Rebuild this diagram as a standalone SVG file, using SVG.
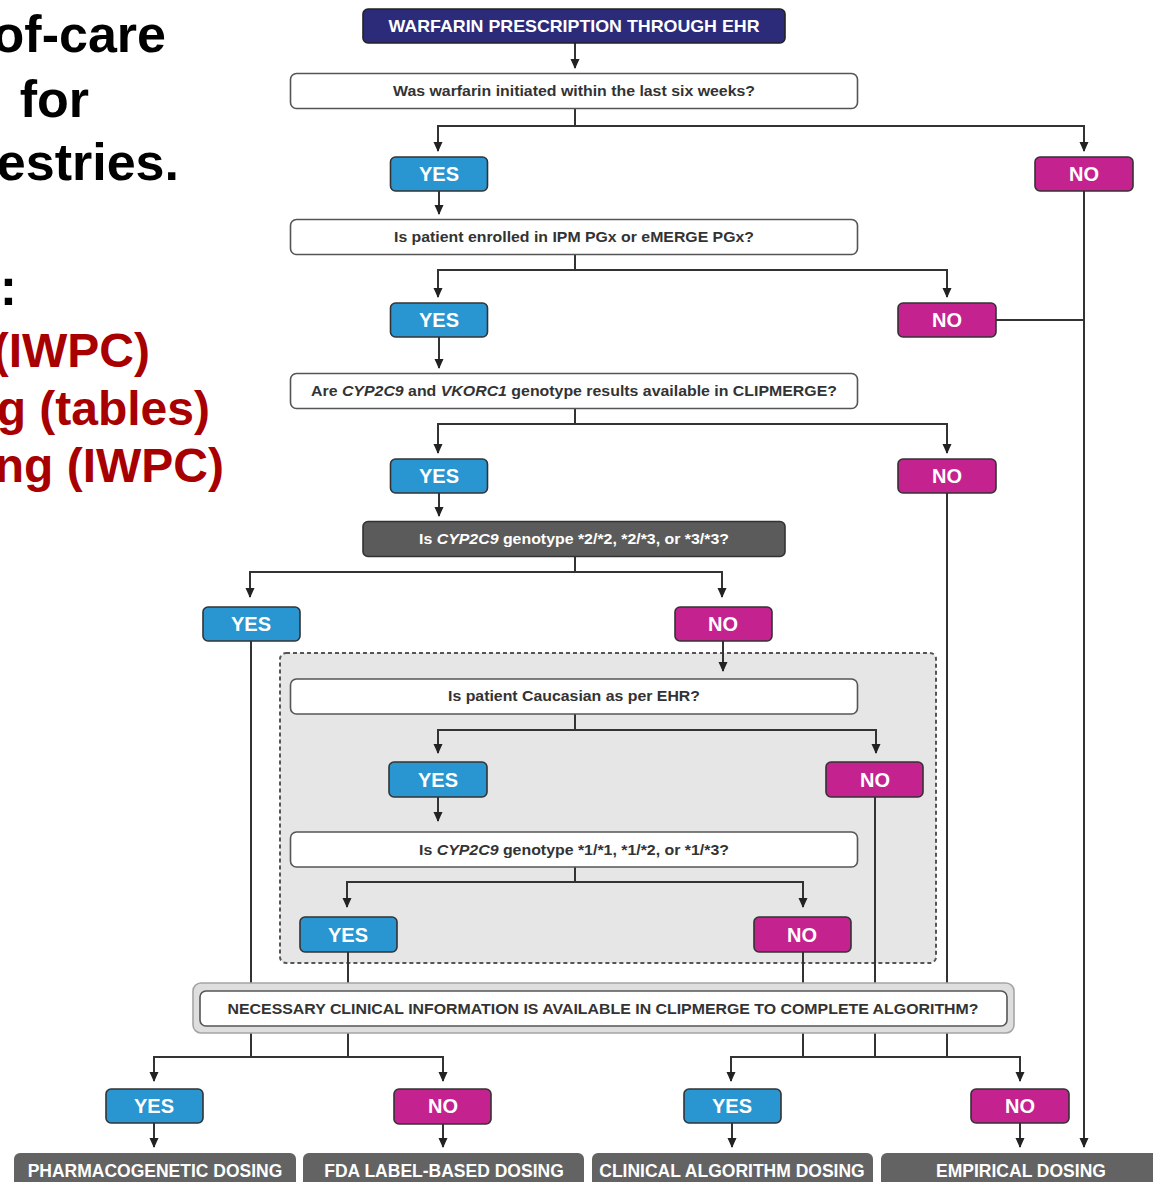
<svg xmlns="http://www.w3.org/2000/svg" width="1153" height="1182" viewBox="0 0 1153 1182">
  <style>
    text { font-family: "Liberation Sans", Arial, sans-serif; font-weight: bold; }
    .side { font-size: 52px; fill: #000; text-anchor: end; }
    .side-red { font-size: 48px; fill: #a80000; text-anchor: end; }
    .q { fill: #fff; stroke: #555; stroke-width: 1.6; }
    .qt { font-size: 15px; fill: #333; text-anchor: middle; }
    .yes { fill: #2996d1; stroke: #333; stroke-width: 1.6; }
    .no { fill: #c4228e; stroke: #333; stroke-width: 1.6; }
    .ynt { font-size: 20px; fill: #fff; text-anchor: middle; }
    .dark { fill: #5b5b5b; stroke: #333; stroke-width: 1.6; }
    .wt { fill: #fff; text-anchor: middle; }
    .out { fill: #636363; }
    .ot { font-size: 17.5px; fill: #fff; text-anchor: middle; }
    .conn { fill: none; stroke: #333; stroke-width: 2; }
    .arr { marker-end: url(#ah); }
  </style>
  <defs>
    <marker id="ah" viewBox="0 0 10 10" refX="9" refY="5" markerWidth="10" markerHeight="11" markerUnits="userSpaceOnUse" orient="auto">
      <path d="M0,0.5 L10,5 L0,9.5 z" fill="#222"/>
    </marker>
  </defs>
  <rect width="1153" height="1182" fill="#fff"/>

  <!-- title text running off the left edge -->
  <g id="side-text">
    <text class="side" x="166" y="52">of-care</text>
    <text class="side" x="89" y="117">for</text>
    <text class="side" x="179" y="180">estries.</text>
    <text class="side" x="17" y="305">:</text>
    <text class="side-red" x="150" y="367">(IWPC)</text>
    <text class="side-red" x="210" y="425">g (tables)</text>
    <text class="side-red" x="224" y="482">ng (IWPC)</text>
  </g>

  <!-- shaded region for the ancestry sub-flow -->
  <g id="ancestry-region">
    <rect x="280" y="653" width="656" height="310" rx="6" fill="#e6e6e6" stroke="#555" stroke-width="2" stroke-dasharray="4 3"/>
  </g>

  <g id="connectors">
    <path class="conn arr" d="M575,43 V68"/>
    <path class="conn arr" d="M575,108 V126 H438 V151"/>
    <path class="conn arr" d="M575,126 H1084 V151"/>
    <path class="conn arr" d="M1084,191 V1147"/>
    <path class="conn arr" d="M439,191 V214"/>
    <path class="conn arr" d="M575,254 V270 H438 V297"/>
    <path class="conn arr" d="M575,270 H947 V297"/>
    <path class="conn" d="M996,320 H1084"/>
    <path class="conn arr" d="M439,337 V368"/>
    <path class="conn arr" d="M575,409 V424 H438 V453"/>
    <path class="conn arr" d="M575,424 H947 V453"/>
    <path class="conn" d="M947,493 V1057"/>
    <path class="conn arr" d="M439,493 V516"/>
    <path class="conn arr" d="M575,556 V572 H250 V597"/>
    <path class="conn arr" d="M575,572 H722 V597"/>
    <path class="conn" d="M251,641 V1057"/>
    <path class="conn arr" d="M723,641 V671"/>
    <path class="conn arr" d="M575,714 V730 H438 V753"/>
    <path class="conn arr" d="M575,730 H876 V753"/>
    <path class="conn" d="M875,797 V1057"/>
    <path class="conn arr" d="M438,797 V821"/>
    <path class="conn arr" d="M575,867 V882 H347 V907"/>
    <path class="conn arr" d="M575,882 H803 V907"/>
    <path class="conn" d="M348,952 V1057"/>
    <path class="conn" d="M803,952 V1057"/>
    <path class="conn arr" d="M251,1057 H154 V1081"/>
    <path class="conn arr" d="M251,1057 H443 V1081"/>
    <path class="conn arr" d="M803,1057 H731 V1081"/>
    <path class="conn arr" d="M803,1057 H1020 V1081"/>
    <path class="conn arr" d="M154,1123 V1147"/>
    <path class="conn arr" d="M443,1124 V1147"/>
    <path class="conn arr" d="M732,1123 V1147"/>
    <path class="conn arr" d="M1020,1123 V1147"/>
  </g>

  <g id="start">
    <rect x="363" y="9" width="422" height="34" rx="5" fill="#2c2b7a" stroke="#222" stroke-width="1.6"/>
    <text class="wt" x="574" y="32" font-size="17" textLength="371" lengthAdjust="spacingAndGlyphs">WARFARIN PRESCRIPTION THROUGH EHR</text>
  </g>

  <g id="q-initiated">
    <rect class="q" x="290.5" y="73.5" width="567" height="35" rx="6"/>
    <text class="qt" x="574" y="96" textLength="362" lengthAdjust="spacingAndGlyphs">Was warfarin initiated within the last six weeks?</text>
  </g>
  <g id="yes-1"><rect class="yes" x="390.5" y="157" width="97" height="34" rx="5"/><text class="ynt" x="439" y="181">YES</text></g>
  <g id="no-1"><rect class="no" x="1035" y="157" width="98" height="34" rx="5"/><text class="ynt" x="1084" y="181">NO</text></g>

  <g id="q-enrolled">
    <rect class="q" x="290.5" y="219.5" width="567" height="35" rx="6"/>
    <text class="qt" x="574" y="242" textLength="360" lengthAdjust="spacingAndGlyphs">Is patient enrolled in IPM PGx or eMERGE PGx?</text>
  </g>
  <g id="yes-2"><rect class="yes" x="390.5" y="303" width="97" height="34" rx="5"/><text class="ynt" x="439" y="327">YES</text></g>
  <g id="no-2"><rect class="no" x="898" y="303" width="98" height="34" rx="5"/><text class="ynt" x="947" y="327">NO</text></g>

  <g id="q-results">
    <rect class="q" x="290.5" y="373.5" width="567" height="35" rx="6"/>
    <text class="qt" x="574" y="396" textLength="526" lengthAdjust="spacingAndGlyphs">Are <tspan font-style="italic">CYP2C9</tspan> and <tspan font-style="italic">VKORC1</tspan> genotype results available in CLIPMERGE?</text>
  </g>
  <g id="yes-3"><rect class="yes" x="390.5" y="459" width="97" height="34" rx="5"/><text class="ynt" x="439" y="483">YES</text></g>
  <g id="no-3"><rect class="no" x="898" y="459" width="98" height="34" rx="5"/><text class="ynt" x="947" y="483">NO</text></g>

  <g id="q-poor-metabolizer">
    <rect class="dark" x="363" y="521.5" width="422" height="35" rx="5"/>
    <text class="wt" x="574" y="544" font-size="15" textLength="310" lengthAdjust="spacingAndGlyphs">Is <tspan font-style="italic">CYP2C9</tspan> genotype *2/*2, *2/*3, or *3/*3?</text>
  </g>
  <g id="yes-4"><rect class="yes" x="203" y="607" width="97" height="34" rx="5"/><text class="ynt" x="251" y="631">YES</text></g>
  <g id="no-4"><rect class="no" x="675" y="607" width="97" height="34" rx="5"/><text class="ynt" x="723" y="631">NO</text></g>

  <g id="q-caucasian">
    <rect class="q" x="290.5" y="679" width="567" height="35" rx="6"/>
    <text class="qt" x="574" y="701" textLength="252" lengthAdjust="spacingAndGlyphs">Is patient Caucasian as per EHR?</text>
  </g>
  <g id="yes-5"><rect class="yes" x="389" y="762" width="98" height="35" rx="5"/><text class="ynt" x="438" y="787">YES</text></g>
  <g id="no-5"><rect class="no" x="826" y="762" width="97" height="35" rx="5"/><text class="ynt" x="875" y="787">NO</text></g>

  <g id="q-star1">
    <rect class="q" x="290.5" y="832" width="567" height="35" rx="6"/>
    <text class="qt" x="574" y="855" textLength="310" lengthAdjust="spacingAndGlyphs">Is <tspan font-style="italic">CYP2C9</tspan> genotype *1/*1, *1/*2, or *1/*3?</text>
  </g>
  <g id="yes-6"><rect class="yes" x="300" y="917" width="97" height="35" rx="5"/><text class="ynt" x="348" y="942">YES</text></g>
  <g id="no-6"><rect class="no" x="754" y="917" width="97" height="35" rx="5"/><text class="ynt" x="802" y="942">NO</text></g>

  <g id="q-clinical-info">
    <rect x="193" y="983" width="821" height="50" rx="8" fill="#dedede" stroke="#a5a5a5" stroke-width="1.6"/>
    <rect x="200" y="991" width="807" height="35" rx="6" fill="#fff" stroke="#555" stroke-width="1.6"/>
    <text class="qt" x="603" y="1014" font-size="16" textLength="751" lengthAdjust="spacingAndGlyphs">NECESSARY CLINICAL INFORMATION IS AVAILABLE IN CLIPMERGE TO COMPLETE ALGORITHM?</text>
  </g>
  <g id="yes-7"><rect class="yes" x="106" y="1089" width="97" height="34" rx="5"/><text class="ynt" x="154" y="1113">YES</text></g>
  <g id="no-7"><rect class="no" x="394" y="1089" width="97" height="35" rx="5"/><text class="ynt" x="443" y="1113">NO</text></g>
  <g id="yes-8"><rect class="yes" x="684" y="1089" width="97" height="34" rx="5"/><text class="ynt" x="732" y="1113">YES</text></g>
  <g id="no-8"><rect class="no" x="971" y="1089" width="98" height="34" rx="5"/><text class="ynt" x="1020" y="1113">NO</text></g>

  <g id="out-pharmacogenetic"><rect class="out" x="14" y="1153" width="282" height="40" rx="6"/><text class="ot" x="155" y="1177">PHARMACOGENETIC DOSING</text></g>
  <g id="out-fda"><rect class="out" x="303" y="1153" width="281" height="40" rx="6"/><text class="ot" x="444" y="1177">FDA LABEL-BASED DOSING</text></g>
  <g id="out-clinical"><rect class="out" x="592" y="1153" width="281" height="40" rx="6"/><text class="ot" x="732" y="1177">CLINICAL ALGORITHM DOSING</text></g>
  <g id="out-empirical"><rect class="out" x="881" y="1153" width="290" height="40" rx="6"/><text class="ot" x="1021" y="1177">EMPIRICAL DOSING</text></g>
</svg>
